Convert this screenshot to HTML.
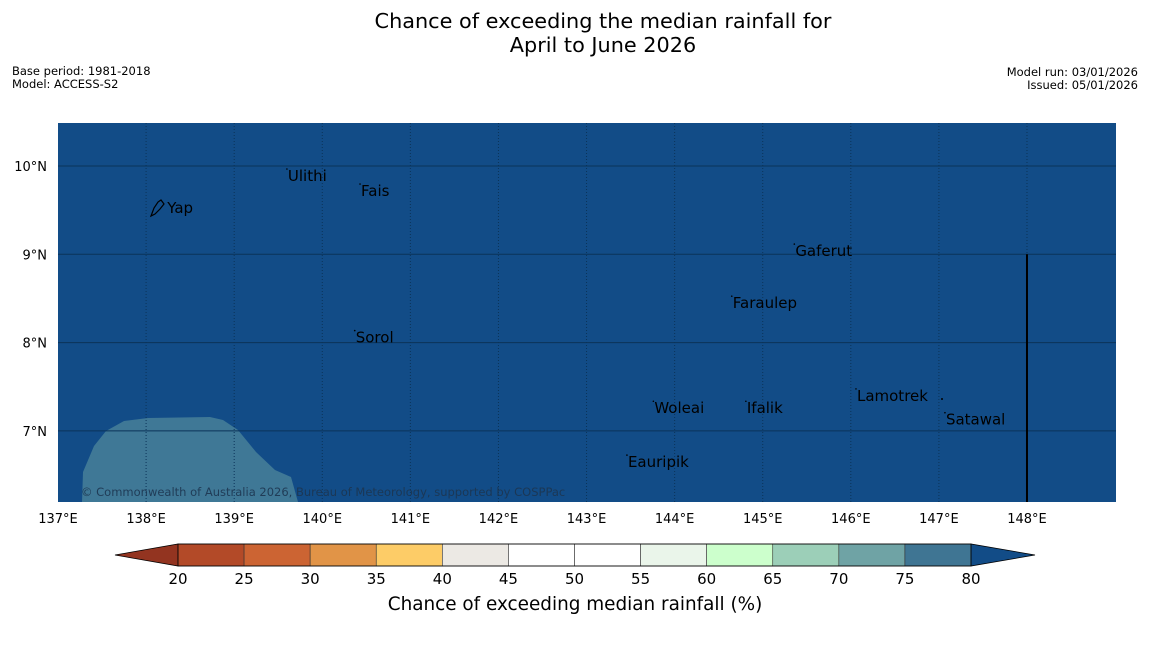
<!DOCTYPE html>
<html><head><meta charset="utf-8"><style>
body{margin:0;background:#fff;width:1150px;height:644px;overflow:hidden;font-family:"DejaVu Sans","Liberation Sans",sans-serif}
</style></head><body>
<svg width="1150" height="644" xmlns="http://www.w3.org/2000/svg" font-family="DejaVu Sans, Liberation Sans, sans-serif">
<text x="603" y="28" font-size="20.8" text-anchor="middle">Chance of exceeding the median rainfall for</text>
<text x="603" y="52" font-size="20.8" text-anchor="middle">April to June 2026</text>
<text x="12" y="75" font-size="11.5">Base period: 1981-2018</text>
<text x="12" y="88" font-size="11.5">Model: ACCESS-S2</text>
<text x="1138" y="76" font-size="11.5" text-anchor="end">Model run: 03/01/2026</text>
<text x="1138" y="89" font-size="11.5" text-anchor="end">Issued: 05/01/2026</text>
<g id="map"></g>
<g id="cbar"></g>
<text x="575" y="610" font-size="18.4" text-anchor="middle">Chance of exceeding median rainfall (%)</text>
</svg>
<script>
const lonTicks=[137,138,139,140,141,142,143,144,145,146,147,148];
const latTicks=[7,8,9,10];
const islandNames=["Ulithi","Fais","Yap","Gaferut","Faraulep","Sorol","Woleai","Ifalik","Lamotrek","Satawal","Eauripik"];
const islandLon=[139.61,140.44,138.24,145.37,144.66,140.38,143.77,144.82,146.07,147.08,143.47];
const islandLat=[9.83,9.66,9.47,8.98,8.39,8.0,7.2,7.2,7.34,7.07,6.59];
const cbLevels=[20,25,30,35,40,45,50,55,60,65,70,75,80];
const cbColors=["#b34a28","#cc6433","#e19447","#fdcc67","#ece9e4","#ffffff","#ffffff","#eaf5ea","#ccffcc","#9ccfb8","#6fa3a5","#3f7593"];
const cbUnder="#933420", cbOver="#124c87";
const NS="http://www.w3.org/2000/svg";
const X0=58,X1=1116,Y0=123,Y1=502;
const lx=l=>58+(l-137)*88.09, ly=l=>166+(10-l)*88.3;
function mk(t,a,p){const e=document.createElementNS(NS,t);for(const k in a)e.setAttribute(k,a[k]);p.appendChild(e);return e;}
const map=document.getElementById('map');
const bg=mk('rect',{x:X0,y:Y0,width:X1-X0,height:Y1-Y0,fill:'#124c87'},map);


const patch=mk('path',{d:'M82,502 L83,472 L94,446 L106,431 L124,421 L148,418 L210,417 L223,420 L238,430 L256,452 L275,470 L291,477 L298,502 Z',fill:'#3f7896'},map);


lonTicks.forEach(l=>{
 const x=lx(l);
 if(x>X0+1&&x<X1){const g=mk('line',{x1:x,x2:x,y1:Y0,y2:Y1,stroke:'#0b3358','stroke-width':1,'stroke-dasharray':'1,2'},map);
 
 }
 const t=mk('text',{x:x,y:523,'font-size':13,'text-anchor':'middle'},map);t.textContent=l+'°E';
 
 
});
latTicks.forEach(l=>{
 const y=ly(l);
 const g=mk('line',{x1:X0,x2:X1,y1:y,y2:y,stroke:'#0b3358','stroke-width':1},map);
 
 
 const t=mk('text',{x:47,y:y+5,'font-size':13,'text-anchor':'end'},map);t.textContent=l+'°N';
 
 
});
const vl=mk('line',{x1:lx(148),x2:lx(148),y1:ly(9),y2:Y1,stroke:'#000','stroke-width':2},map);


const yap=mk('path',{d:'M151,216 L154,208 L158,202 L161,200 L164,204 L160,209 L155,214 Z',fill:'none',stroke:'#000','stroke-width':1.2},map);


mk('circle',{cx:942,cy:399,r:1,fill:'#000'},map);
islandNames.forEach((n,i)=>{
 const x=lx(islandLon[i]), y=ly(islandLat[i]);
 if(n!=="Yap") mk('circle',{cx:x-1,cy:y-12,r:0.8,fill:'#000'},map);
 const t=mk('text',{x:x,y:y,'font-size':15,fill:'#000'},map);t.textContent=n;
 
 
});
const cp=mk('text',{x:81,y:496,'font-size':11.5,fill:'#1d3550','fill-opacity':0.9},map);
cp.textContent='© Commonwealth of Australia 2026, Bureau of Meteorology, supported by COSPPac';


const cb=document.getElementById('cbar');
const C0=178,C1=971,CY0=544,CY1=566;
const cx=v=>C0+(v-cbLevels[0])/(cbLevels[cbLevels.length-1]-cbLevels[0])*(C1-C0);
const u=mk('polygon',{points:`${C0},${CY0} ${C0},${CY1} 115,${(CY0+CY1)/2}`,fill:cbUnder,stroke:'#000','stroke-width':0.8},cb);


const o=mk('polygon',{points:`${C1},${CY0} ${C1},${CY1} 1035,${(CY0+CY1)/2}`,fill:cbOver,stroke:'#000','stroke-width':0.8},cb);


cbColors.forEach((c,i)=>{
 const r=mk('rect',{x:cx(cbLevels[i]),y:CY0,width:cx(cbLevels[i+1])-cx(cbLevels[i]),height:CY1-CY0,fill:c,stroke:'#333','stroke-width':0.6},cb);
 
 
});
mk('rect',{x:C0,y:CY0,width:C1-C0,height:CY1-CY0,fill:'none',stroke:'#000','stroke-width':0.8},cb);
cbLevels.forEach(v=>{
 const t=mk('text',{x:cx(v),y:584,'font-size':15,'text-anchor':'middle'},cb);t.textContent=v;
 
 
});
</script>
</body></html>
